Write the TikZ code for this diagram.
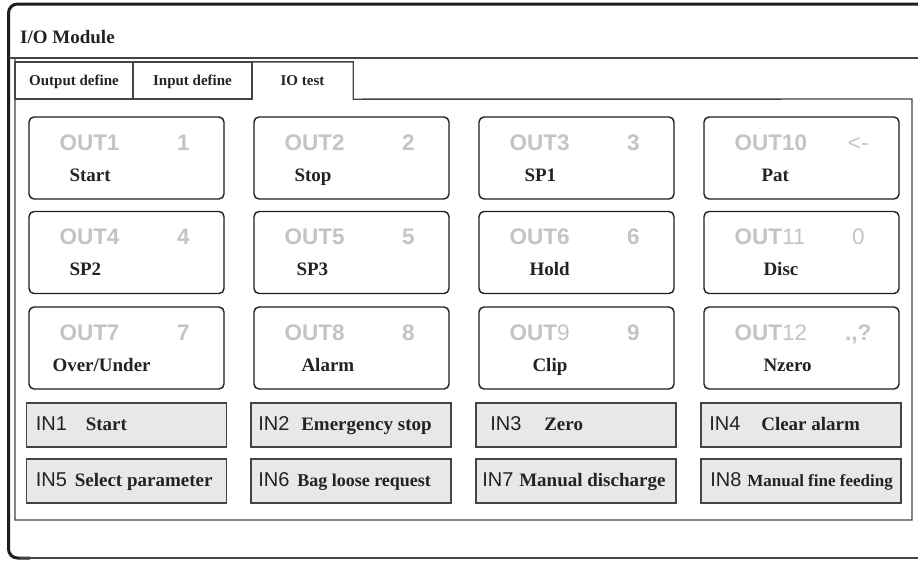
\documentclass[tikz,border=0pt]{standalone}
\usepackage{fontspec}
\setmainfont{Liberation Serif}
\newfontfamily\panelsans{Liberation Sans}
\usepackage{tikz}
\usetikzlibrary{calc}
\definecolor{framec}{RGB}{30, 30, 30}
\definecolor{linec}{RGB}{68, 68, 68}
\definecolor{keygray}{RGB}{196, 196, 196}
\definecolor{infill}{RGB}{232, 232, 232}
\definecolor{textc}{RGB}{35, 35, 35}

% one output key: name, centre x, centre y, OUT label, digit, function, function offset
\newcommand{\outkey}[7]{%
	\node[outbox] (#1) at (#2, #3) {};
	\node[outlab] (#1l) at ($(#1.north west)+(31, -34)$) {#4};
	\node[outnum] (#1n) at ($(#1.north west)+(155, -34)$) {#5};
	\node[sublab] (#1s) at ($(#1.north west)+(#7, -65)$) {#6};
}
% one input key: name, centre x, centre y, IN label, label offset, function, function offset, size
\newcommand{\inkey}[8]{%
	\node[inbox] (#1) at (#2, #3) {};
	\node[inlab] (#1l) at ($(#1.north west)+(#5, -28)$) {#4};
	\node[indesc, font=\bfseries\fontsize{#8}{22}\selectfont] (#1s) at ($(#1.north west)+(#7, -28)$) {#6};
}

\begin{document}
\begin{tikzpicture}[x = 1pt, y = 1pt,
	outbox/.style = {draw = framec, line width = 1.4pt, rounded corners = 5pt, fill = white, minimum width = 195pt, minimum height = 82pt, inner sep = 0pt},
	inbox/.style = {draw = linec, line width = 1.8pt, fill = infill, minimum width = 200pt, minimum height = 44pt, inner sep = 0pt},
	tabtext/.style = {minimum height = 37pt, text height = 11pt, text depth = 2pt, inner sep = 0pt, text = textc, font = \bfseries\fontsize{15}{18}\selectfont},
	tab/.style = {tabtext, draw = linec, line width = 1.2pt},
	outlab/.style = {anchor = base west, inner sep = 0pt, text = keygray, font = \panelsans\bfseries\fontsize{22.5}{27}\selectfont},
	outnum/.style = {anchor = base, inner sep = 0pt, text = keygray, font = \panelsans\bfseries\fontsize{22.5}{27}\selectfont},
	sublab/.style = {anchor = base west, inner sep = 0pt, text = textc, font = \bfseries\fontsize{19}{23}\selectfont},
	inlab/.style = {anchor = base west, inner sep = 0pt, text = textc, font = \panelsans\fontsize{20}{24}\selectfont},
	indesc/.style = {anchor = base west, inner sep = 0pt, text = textc}]
	\useasboundingbox (0, 0) rectangle (918, -560);
	% window frame
	\draw[framec, line width = 3pt, rounded corners = 9pt] (918, -4) -- (8.5, -4) -- (8.5, -558) -- (30, -558);
	\draw[linec, line width = 1.5pt] (20, -558) -- (918, -558);
	\node[anchor = base west, inner sep = 0pt, text = textc, font = \bfseries\fontsize{19}{23}\selectfont] (title) at (20, -43) {I/O Module};
	\draw[linec, line width = 1.2pt] (8.5, -58) -- (918, -58);
	% tabs
	\node[tab, minimum width = 118pt] (tout) at (74, -80.5) {Output define};
	\node[tab, minimum width = 119pt] (tin) at (192.5, -80.5) {Input define};
	\node[tabtext, minimum width = 101pt] (tio) at (302.5, -80.5) {IO test};
	\draw[linec, line width = 1.4pt] (tio.south west) -- (tio.north west) -- (tio.north east) -- (tio.south east) -- (912, -99) -- (912, -520) -- (15, -520) -- (15, -58);
	% output keys
	\outkey{o1}{126.5}{-158}{OUT1}{1}{Start}{41}
	\outkey{o2}{351.5}{-158}{OUT2}{2}{Stop}{41}
	\outkey{o3}{576.5}{-158}{OUT3}{3}{SP1}{46}
	\outkey{o10}{801.5}{-158}{OUT10}{{\mdseries <-}}{Pat}{58}
	\outkey{o4}{126.5}{-252.5}{OUT4}{4}{SP2}{41}
	\outkey{o5}{351.5}{-252.5}{OUT5}{5}{SP3}{43}
	\outkey{o6}{576.5}{-252.5}{OUT6}{6}{Hold}{51}
	\outkey{o11}{801.5}{-252.5}{OUT{\mdseries 11}}{{\mdseries 0}}{Disc}{60}
	\outkey{o7}{126.5}{-348}{OUT7}{7}{Over/Under}{24}
	\outkey{o8}{351.5}{-348}{OUT8}{8}{Alarm}{48}
	\outkey{o9}{576.5}{-348}{OUT{\mdseries 9}}{9}{Clip}{54}
	\outkey{o12}{801.5}{-348}{OUT{\mdseries 12}}{.,?}{Nzero}{60}
	% input keys
	\inkey{in1}{126.5}{-425}{IN1}{10}{Start}{60}{19}
	\inkey{in2}{351}{-425}{IN2}{8}{Emergency stop}{51}{19}
	\inkey{in3}{576}{-425}{IN3}{15}{Zero}{69}{19}
	\inkey{in4}{801}{-425}{IN4}{9}{Clear alarm}{61}{19}
	\inkey{in5}{126.5}{-481}{IN5}{10}{Select parameter}{49}{19}
	\inkey{in6}{351}{-481}{IN6}{8}{Bag loose request}{47}{18}
	\inkey{in7}{576}{-481}{IN7}{7}{Manual discharge}{44}{19}
	\inkey{in8}{801}{-481}{IN8}{10}{Manual fine feeding}{47}{17}
\end{tikzpicture}
\end{document}
